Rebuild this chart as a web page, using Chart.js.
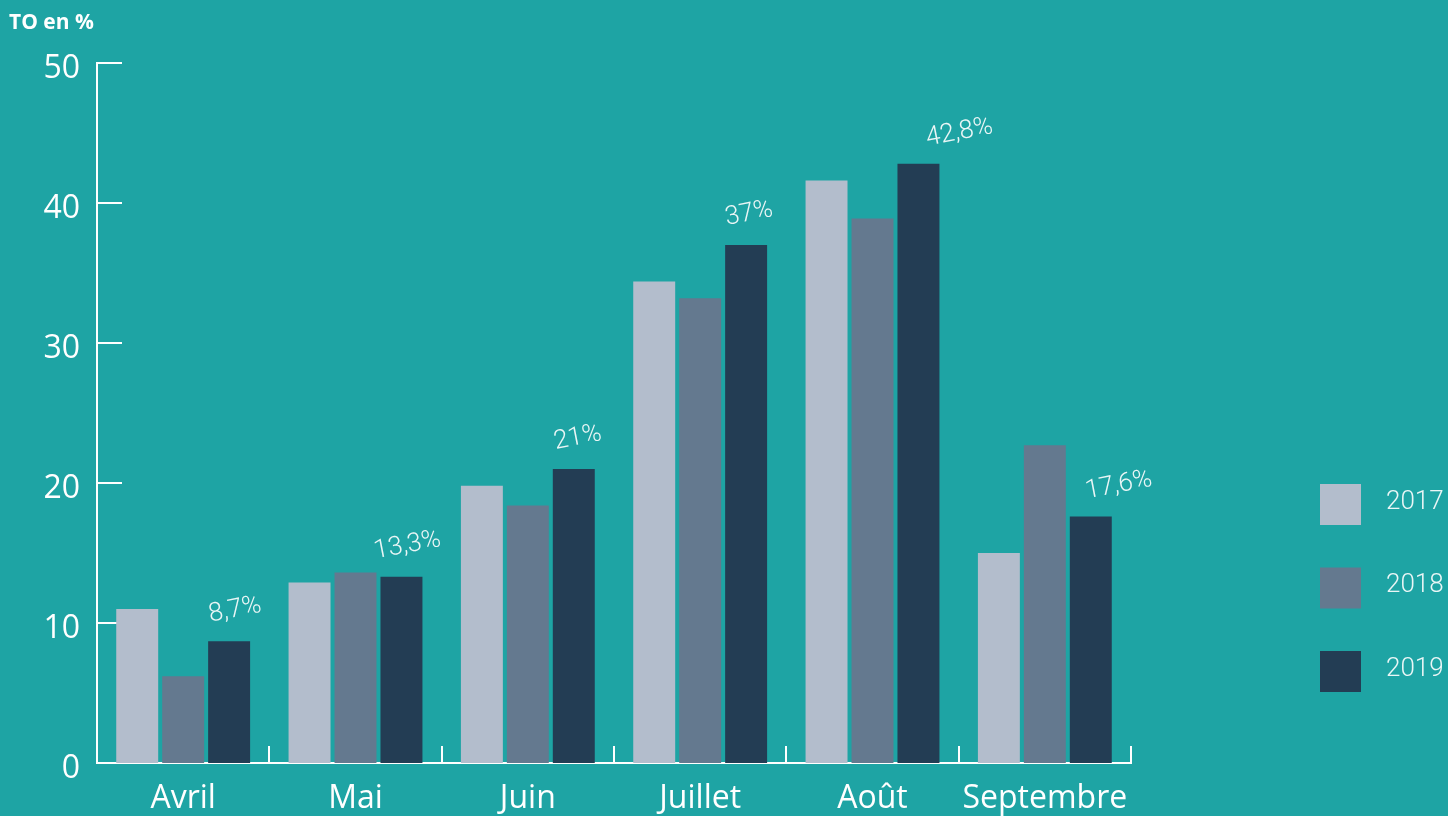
<!DOCTYPE html>
<html>
<head>
<meta charset="utf-8">
<script src="https://cdn.jsdelivr.net/npm/chart.js@4.4.1/dist/chart.umd.min.js"></script>
<style>
html,body{margin:0;padding:0;background:#1ea4a4;overflow:hidden;}
canvas{display:block;}
</style>
</head>
<body>
<canvas id="c" width="1448" height="816"></canvas>
<script>
const categories = ['Avril', 'Mai', 'Juin', 'Juillet', 'Août', 'Septembre'];
const years = ['2017', '2018', '2019'];
const values2017 = [11.0, 12.9, 19.8, 34.4, 41.6, 15.0];
const values2018 = [6.2, 13.6, 18.4, 33.2, 38.9, 22.7];
const values2019 = [8.7, 13.3, 21, 37, 42.8, 17.6];
const labels2019 = ['8,7%', '13,3%', '21%', '37%', '42,8%', '17,6%'];
const yTickValues = [0, 10, 20, 30, 40, 50];
const axisTitle = 'TO en %';

const colors = ['#b3bdcc', '#64798f', '#233d54'];
const BG = '#1ea4a4';
const AXIS_FONT = '"Open Sans", "DejaVu Sans", sans-serif';
const LIGHT_FONT = 'Roboto, "Open Sans", sans-serif';
// small horizontal nudges for the value labels (style only)
const labelNudge = [0, 0, -2, -3, 35, 22];

const deco = {
  id: 'deco',
  beforeDraw(chart) {
    const ctx = chart.ctx;
    ctx.save();
    ctx.fillStyle = BG;
    ctx.fillRect(0, 0, chart.width, chart.height);
    ctx.restore();
  },
  beforeDatasetsDraw(chart) {
    const ctx = chart.ctx;
    const x = chart.scales.x, y = chart.scales.y;
    const left = chart.chartArea.left, right = chart.chartArea.right;
    const y0 = y.getPixelForValue(0);
    ctx.save();
    ctx.strokeStyle = '#ffffff';
    ctx.lineWidth = 2;
    yTickValues.forEach(v => {
      const py = Math.round(y.getPixelForValue(v));
      ctx.beginPath();
      ctx.moveTo(left, py);
      ctx.lineTo(left + 25, py);
      ctx.stroke();
    });
    ctx.beginPath();
    ctx.moveTo(left, Math.round(y.getPixelForValue(50)) - 1);
    ctx.lineTo(left, Math.round(y0) + 1);
    ctx.stroke();
    ctx.beginPath();
    ctx.moveTo(left - 1, Math.round(y0));
    ctx.lineTo(right + 1, Math.round(y0));
    ctx.stroke();
    const n = categories.length;
    for (let i = 0; i <= n; i++) {
      const px = i === 0 ? left : (i === n ? right : (x.getPixelForValue(i - 1) + x.getPixelForValue(i)) / 2);
      ctx.beginPath();
      ctx.moveTo(Math.round(px), Math.round(y0));
      ctx.lineTo(Math.round(px), Math.round(y0) - 17);
      ctx.stroke();
    }
    ctx.restore();
  },
  afterDatasetsDraw(chart) {
    const ctx = chart.ctx;
    ctx.save();
    const meta = chart.getDatasetMeta(2);
    ctx.fillStyle = '#eaf6f6';
    ctx.font = '300 26px ' + LIGHT_FONT;
    ctx.textAlign = 'center';
    ctx.textBaseline = 'middle';
    meta.data.forEach((bar, i) => {
      ctx.save();
      ctx.translate(bar.x + 6 + labelNudge[i], bar.y - 31);
      ctx.rotate(-11 * Math.PI / 180);
      ctx.fillText(labels2019[i], 0, 0);
      ctx.restore();
    });
    ctx.fillStyle = '#ffffff';
    ctx.font = 'bold 21px ' + AXIS_FONT;
    ctx.textAlign = 'left';
    ctx.textBaseline = 'middle';
    ctx.fillText(axisTitle, 9, 23);
    ctx.font = '300 26px ' + LIGHT_FONT;
    years.forEach((yr, i) => {
      const top = 484 + i * 83.5;
      ctx.fillStyle = colors[i];
      ctx.fillRect(1320, top, 41, 41);
      ctx.fillStyle = '#eaf6f6';
      ctx.fillText(yr, 1386, top + 18);
    });
    ctx.restore();
  }
};

new Chart(document.getElementById('c'), {
  type: 'bar',
  data: {
    labels: categories,
    datasets: [
      { label: years[0], data: values2017, backgroundColor: colors[0] },
      { label: years[1], data: values2018, backgroundColor: colors[1] },
      { label: years[2], data: values2019, backgroundColor: colors[2] }
    ]
  },
  options: {
    responsive: false,
    animation: false,
    devicePixelRatio: 1,
    layout: { padding: { top: 63, right: 317, bottom: 0, left: 0 } },
    datasets: { bar: { categoryPercentage: 0.80, barPercentage: 0.913 } },
    plugins: { legend: { display: false }, tooltip: { enabled: false } },
    scales: {
      x: {
        grid: { display: false, drawTicks: false },
        border: { display: false },
        ticks: { color: '#ffffff', font: { family: AXIS_FONT, size: 32 }, padding: 17 },
        afterFit(scale) { scale.height = 53; }
      },
      y: {
        min: 0, max: 50,
        grid: { display: false, drawTicks: false },
        border: { display: false },
        afterBuildTicks(scale) { scale.ticks = yTickValues.map(v => ({ value: v })); },
        ticks: { color: '#ffffff', font: { family: AXIS_FONT, size: 32 }, padding: 17, labelOffset: 6 },
        afterFit(scale) { scale.width = 97; }
      }
    }
  },
  plugins: [deco]
});
</script>
</body>
</html>
